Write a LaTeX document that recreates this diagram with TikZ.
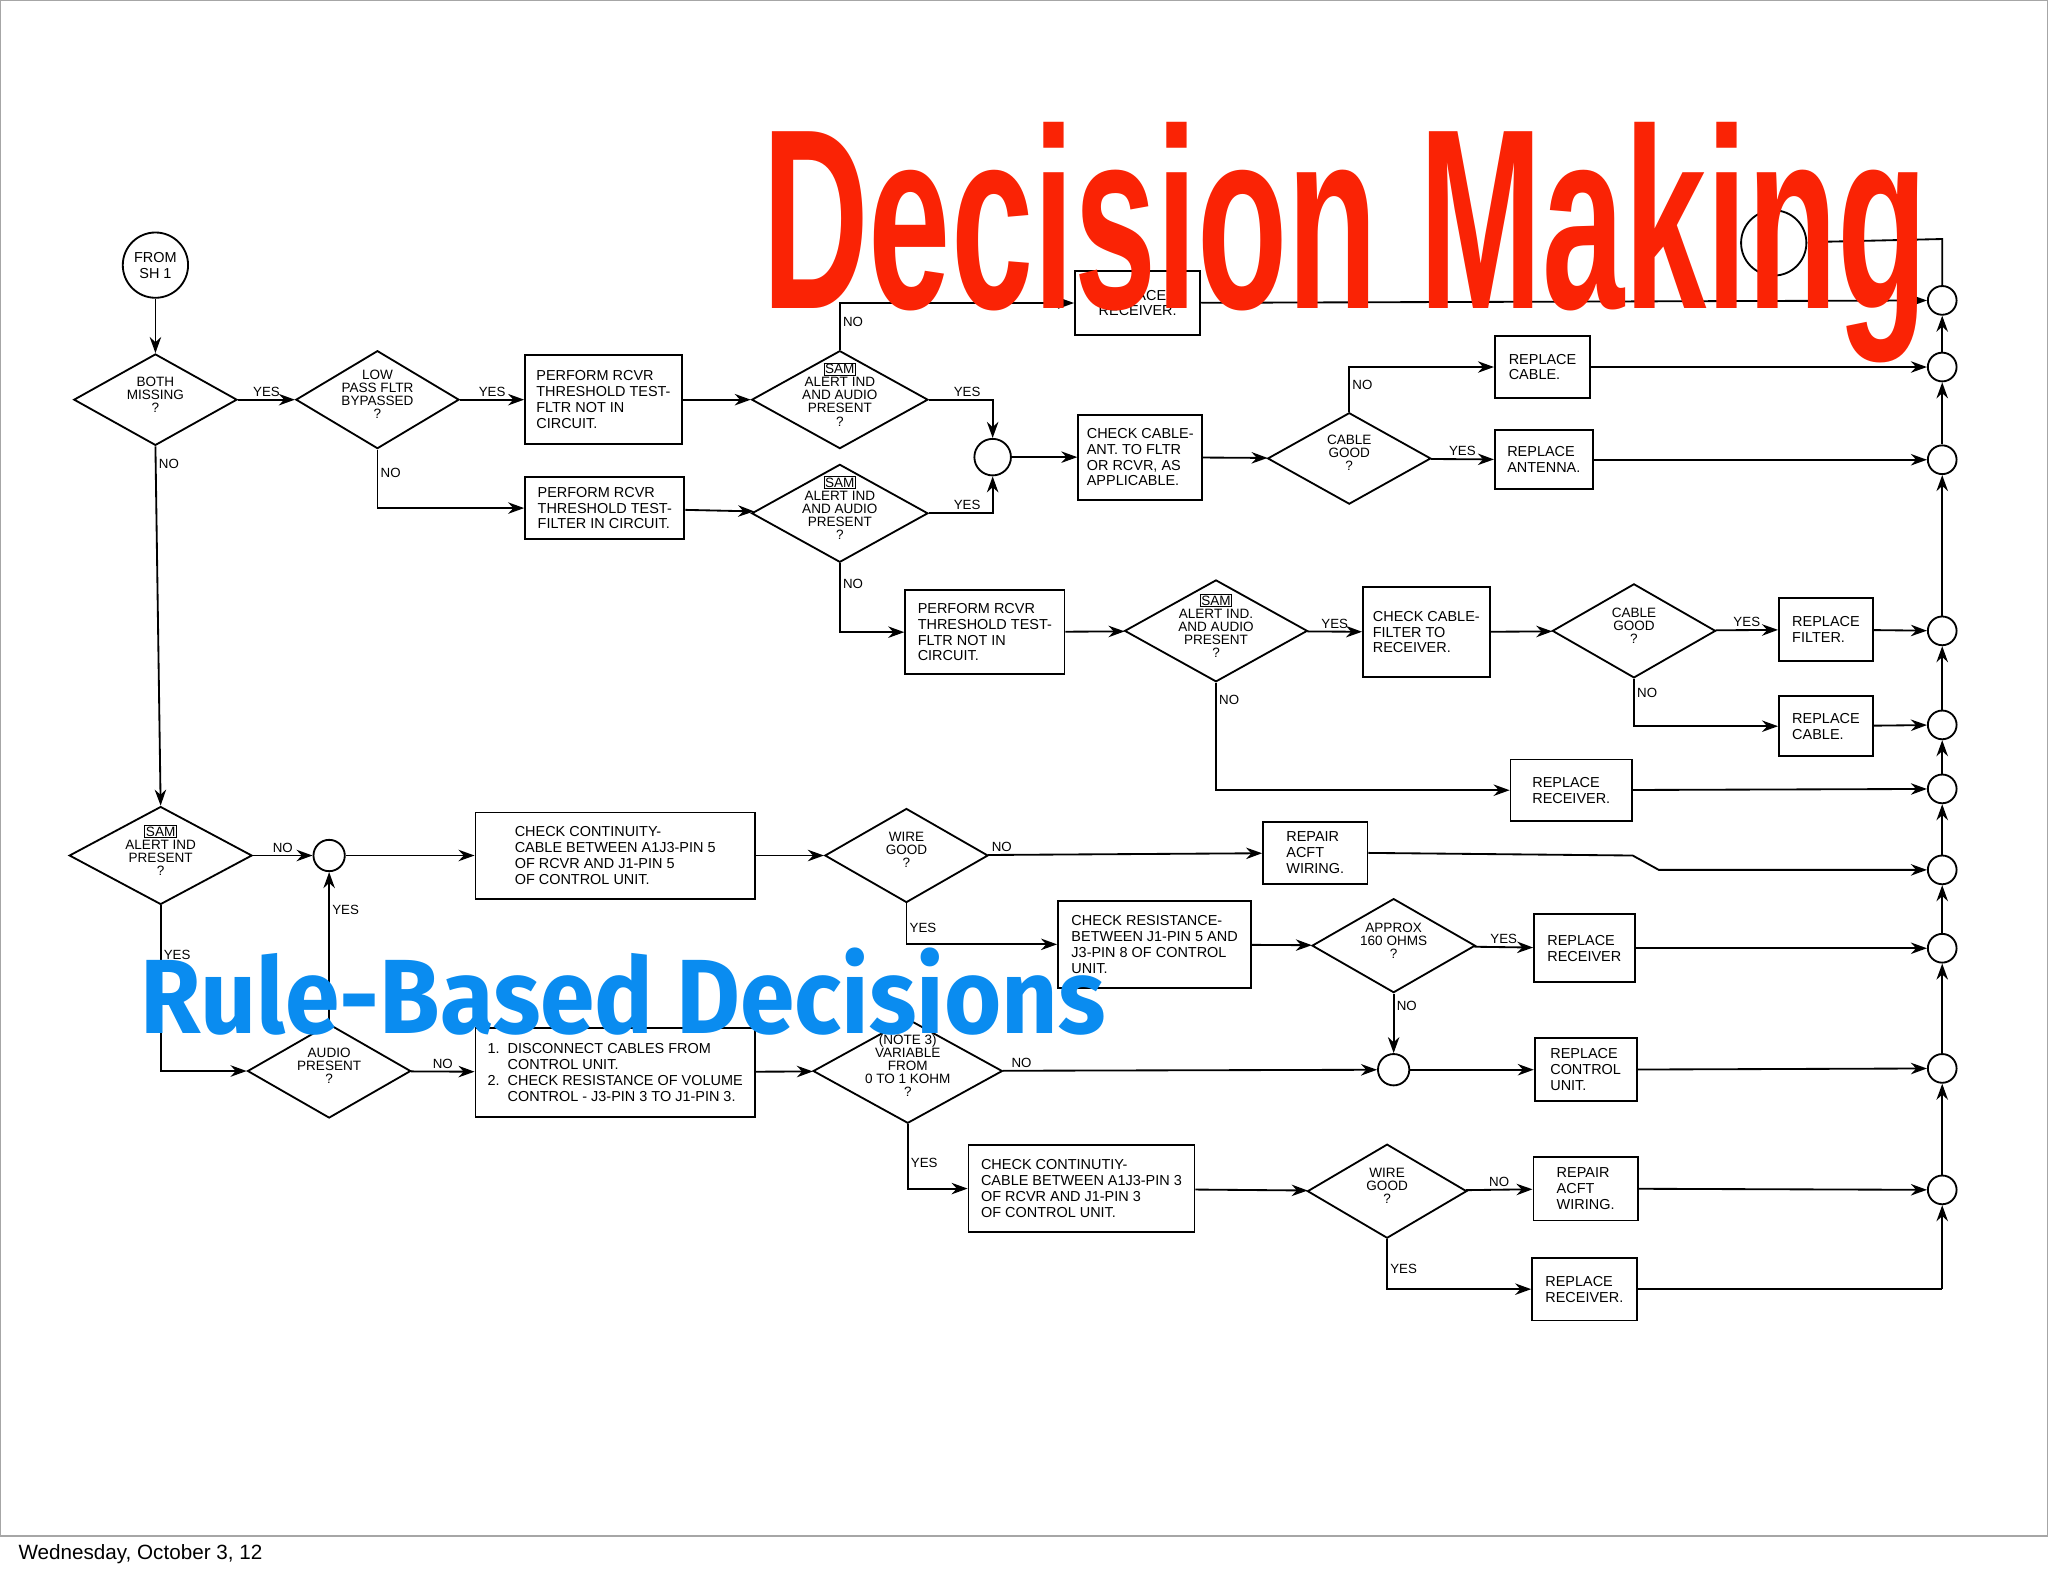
\documentclass[tikz,border=0pt]{standalone}
\usepackage{fontspec}
\setmainfont{Liberation Sans}
\usetikzlibrary{shapes.geometric,arrows.meta}
\newcommand\samb{\setlength{\fboxsep}{0.3pt}\fbox{SAM}}
\newcommand\dtx[1]{\makebox[0pt]{\smash{$\vcenter{\hbox{\renewcommand\arraystretch{0.82}\begin{tabular}{@{}c@{}}#1\end{tabular}}}$}}}
\definecolor{titlered}{RGB}{250,35,5}
\definecolor{subblue}{RGB}{10,140,240}
\tikzset{
 every node/.style={font=\fontsize{6.3}{6.9}\selectfont},
 bx/.style={draw,line width=0.8pt,rectangle,align=left,inner sep=1pt},
 dia/.style={draw,line width=0.8pt,diamond,inner sep=0pt,font=\fontsize{5.9}{6.4}\selectfont},
 cir/.style={draw,line width=0.8pt,circle,inner sep=0pt},
 ln/.style={line width=0.8pt,-{Stealth[length=7pt,width=5pt]}},
 pl/.style={line width=0.8pt},
 lab/.style={font=\fontsize{5.8}{6}\selectfont,inner sep=1pt}
}
\begin{document}
\begin{tikzpicture}[x=0.02cm,y=-0.02cm]
\useasboundingbox (0,0) rectangle (1568,1206);
\draw[gray!70,line width=0.6pt] (0.5,0.5) rectangle (1567.5,1176);
\node[anchor=west,font=\fontsize{9}{10}\selectfont] (foot) at (8,1190) {Wednesday, October 3, 12};

% start
\node[cir,minimum size=1cm,align=center] (from) at (119,203) {FROM\\SH 1};
\node[cir,minimum size=1cm] (one) at (1358,186) {1};

% diamonds
\node[dia,minimum width=2.5cm,minimum height=1.4cm] (d1) at (119,306) {\dtx{BOTH\\MISSING\\?}};
\node[dia,minimum width=2.5cm,minimum height=1.5cm] (d2) at (289,306) {\dtx{LOW\\PASS FLTR\\BYPASSED\\?}};
\node[dia,minimum width=2.7cm,minimum height=1.5cm] (d3) at (643,306) {\dtx{\samb\\ALERT IND\\AND AUDIO\\PRESENT\\?}};
\node[dia,minimum width=2.7cm,minimum height=1.5cm] (d4) at (643,393) {\dtx{\samb\\ALERT IND\\AND AUDIO\\PRESENT\\?}};
\node[dia,minimum width=2.5cm,minimum height=1.4cm] (d5) at (1033,351) {\dtx{CABLE\\GOOD\\?}};
\node[dia,minimum width=2.8cm,minimum height=1.56cm] (d6) at (931,483) {\dtx{\samb\\ALERT IND.\\AND AUDIO\\PRESENT\\?}};
\node[dia,minimum width=2.5cm,minimum height=1.44cm] (d7) at (1251,483) {\dtx{CABLE\\GOOD\\?}};
\node[dia,minimum width=2.8cm,minimum height=1.5cm] (d8) at (123,655) {\dtx{\samb\\ALERT IND\\PRESENT\\?}};
\node[dia,minimum width=2.5cm,minimum height=1.44cm] (d9) at (694,655) {\dtx{WIRE\\GOOD\\?}};
\node[dia,minimum width=2.5cm,minimum height=1.44cm] (d10) at (1067,724) {\dtx{APPROX\\160 OHMS\\?}};
\node[dia,minimum width=2.5cm,minimum height=1.44cm] (d11) at (252,820) {\dtx{AUDIO\\PRESENT\\?}};
\node[dia,minimum width=2.9cm,minimum height=1.6cm] (d12) at (695,820) {\dtx{(NOTE 3)\\VARIABLE\\FROM\\0 TO 1 KOHM\\?}};
\node[dia,minimum width=2.44cm,minimum height=1.44cm] (d13) at (1062,912) {\dtx{WIRE\\GOOD\\?}};

% boxes
\node[bx,minimum width=2.4cm,minimum height=1.36cm] (b1) at (462,306) {PERFORM RCVR\\THRESHOLD TEST-\\FLTR NOT IN\\CIRCUIT.};
\node[bx,minimum width=1.92cm,minimum height=0.98cm] (b2) at (871,232) {REPLACE\\RECEIVER.};
\node[bx,minimum width=2.44cm,minimum height=0.94cm] (b3) at (463,389) {PERFORM RCVR\\THRESHOLD TEST-\\FILTER IN CIRCUIT.};
\node[bx,minimum width=1.9cm,minimum height=1.3cm] (b4) at (873,350) {CHECK CABLE-\\ANT. TO FLTR\\OR RCVR, AS\\APPLICABLE.};
\node[bx,minimum width=1.46cm,minimum height=0.96cm] (b5) at (1181,281) {REPLACE\\CABLE.};
\node[bx,minimum width=1.5cm,minimum height=0.9cm] (b6) at (1182,352) {REPLACE\\ANTENNA.};
\node[bx,minimum width=2.44cm,minimum height=1.28cm] (b7) at (754,484) {PERFORM RCVR\\THRESHOLD TEST-\\FLTR NOT IN\\CIRCUIT.};
\node[bx,minimum width=1.94cm,minimum height=1.38cm] (b8) at (1092,484) {CHECK CABLE-\\FILTER TO\\RECEIVER.};
\node[bx,minimum width=1.44cm,minimum height=0.96cm] (b9) at (1398,482) {REPLACE\\FILTER.};
\node[bx,minimum width=1.44cm,minimum height=0.92cm] (b10) at (1398,556) {REPLACE\\CABLE.};
\node[bx,minimum width=1.86cm,minimum height=0.94cm] (b11) at (1203,605) {REPLACE\\RECEIVER.};
\node[bx,minimum width=4.28cm,minimum height=1.32cm] (b12) at (471,655) {CHECK CONTINUITY-\\CABLE BETWEEN A1J3-PIN 5\\OF RCVR AND J1-PIN 5\\OF CONTROL UNIT.};
\node[bx,minimum width=1.6cm,minimum height=0.94cm] (b13) at (1007,653) {REPAIR\\ACFT\\WIRING.};
\node[bx,minimum width=2.96cm,minimum height=1.34cm] (b14) at (884,723) {CHECK RESISTANCE-\\BETWEEN J1-PIN 5 AND\\J3-PIN 8 OF CONTROL\\UNIT.};
\node[bx,minimum width=1.54cm,minimum height=1.04cm] (b15) at (1213,726) {REPLACE\\RECEIVER};
\node[bx,minimum width=4.28cm,minimum height=1.36cm] (b16) at (471,821) {1.\ \ DISCONNECT CABLES FROM\\\phantom{1.\ \ }CONTROL UNIT.\\2.\ \ CHECK RESISTANCE OF VOLUME\\\phantom{2.\ \ }CONTROL - J3-PIN 3 TO J1-PIN 3.};
\node[bx,minimum width=1.56cm,minimum height=0.96cm] (b17) at (1214,819) {REPLACE\\CONTROL\\UNIT.};
\node[bx,minimum width=3.46cm,minimum height=1.34cm] (b18) at (828,910) {CHECK CONTINUTIY-\\CABLE BETWEEN A1J3-PIN 3\\OF RCVR AND J1-PIN 3\\OF CONTROL UNIT.};
\node[bx,minimum width=1.6cm,minimum height=0.98cm] (b19) at (1214,910) {REPAIR\\ACFT\\WIRING.};
\node[bx,minimum width=1.6cm,minimum height=0.96cm] (b20) at (1213,987) {REPLACE\\RECEIVER.};

% junction circles
\node[cir,minimum size=0.56cm] (c1) at (760,350) {};
\node[cir,minimum size=0.48cm] (c2) at (252,655) {};
\node[cir,minimum size=0.48cm] (c3) at (1067,819) {};
\foreach \i/\yy in {1/230,2/281,3/352,4/483,5/555,6/604,7/666,8/726,9/818,10/911}
  \node[cir,minimum size=0.44cm] (r\i) at (1487,\yy) {};
\coordinate (tc) at (1487,183);
\coordinate (bc) at (1487,987);

% connectors
\draw[ln] (from) -- (d1);
\draw[ln] (d1) -- node[lab,above]{YES} (d2);
\draw[ln] (d2) -- node[lab,above]{YES} (b1);
\draw[ln] (d2.south) |- node[lab,pos=0.2,right]{NO} (b3);
\draw[ln] (b1) -- (d3);
\draw[ln] (b3) -- (d4);
\draw[ln] (d3.north) |- node[lab,pos=0.3,right]{NO} (b2);
\draw[ln] (d3.east) -| node[lab,pos=0.3,above]{YES} (c1.north);
\draw[ln] (d4.east) -| node[lab,pos=0.3,above]{YES} (c1.south);
\draw[ln] (d4.south) |- node[lab,pos=0.15,right]{NO} (b7);
\draw[ln] (c1) -- (b4);
\draw[ln] (b4) -- (d5);
\draw[ln] (d5.north) |- node[lab,pos=0.3,right]{NO} (b5);
\draw[ln] (d5) -- node[lab,above]{YES} (b6);
\draw[ln] (b7) -- (d6);
\draw[ln] (d6) -- node[lab,above]{YES} (b8);
\draw[ln] (b8) -- (d7);
\draw[ln] (d7) -- node[lab,above]{YES} (b9);
\draw[ln] (d7.south) |- node[lab,pos=0.15,right]{NO} (b10);
\draw[ln] (d6.south) |- node[lab,pos=0.08,right]{NO} (b11);
\draw[ln] (d1.south) -- node[lab,pos=0.05,right]{NO} (d8.north);
\draw[ln] (d8) -- node[lab,above]{NO} (c2);
\draw[ln] (c2) -- (b12);
\draw[ln] (b12) -- (d9);
\draw[ln] (d9) -- node[lab,above,pos=0.05]{NO} (b13);
\draw[ln] (d9.south) |- node[lab,pos=0.3,right]{YES} (b14);
\draw[ln] (b14) -- (d10);
\draw[ln] (d10) -- node[lab,above]{YES} (b15);
\draw[ln] (d10.south) -- node[lab,pos=0.2,right]{NO} (c3);
\draw[ln] (d8.south) |- node[lab,pos=0.15,right]{YES} (d11.west);
\draw[ln] (d11.north) -- node[lab,pos=0.75,right]{YES} (c2);
\draw[ln] (d11) -- node[lab,above]{NO} (b16);
\draw[ln] (b16) -- (d12);
\draw[ln] (d12) -- node[lab,above,pos=0.05]{NO} (c3);
\draw[ln] (c3) -- (b17);
\draw[ln] (d12.south) |- node[lab,pos=0.3,right]{YES} (b18);
\draw[ln] (b18) -- (d13);
\draw[ln] (d13) -- node[lab,above]{NO} (b19);
\draw[ln] (d13.south) |- node[lab,pos=0.3,right]{YES} (b20);

% to collector
\draw[ln] (b2) -- (r1);
\draw[ln] (b5) -- (r2);
\draw[ln] (b6) -- (r3);
\draw[ln] (b9) -- (r4);
\draw[ln] (b10) -- (r5);
\draw[ln] (b11) -- (r6);
\draw[ln] (b13.east) -- (1250,655) -- (1270,666) -- (r7);
\draw[ln] (b15) -- (r8);
\draw[ln] (b17) -- (r9);
\draw[ln] (b19) -- (r10);
\draw[pl] (b20) -- (bc);
\draw[ln] (bc) -- (r10);
\draw[ln] (r10) -- (r9);
\draw[ln] (r9) -- (r8);
\draw[ln] (r8) -- (r7);
\draw[ln] (r7) -- (r6);
\draw[ln] (r6) -- (r5);
\draw[ln] (r5) -- (r4);
\draw[ln] (r4) -- (r3);
\draw[ln] (r3) -- (r2);
\draw[ln] (r2) -- (r1);
\draw[ln] (r1) -- (tc) -- (one);

% titles
\node[anchor=center,text=titlered,font=\bfseries\fontsize{112}{112}\selectfont,xscale=0.575,inner sep=0pt] (title) at (1030,186) {Decision Making};
\node[anchor=center,text=subblue,font=\fontspec{Fira Sans}\bfseries\fontsize{46}{46}\selectfont,inner sep=0pt,xscale=0.93] (sub) at (477,759) {Rule-Based Decisions};
\end{tikzpicture}
\end{document}
